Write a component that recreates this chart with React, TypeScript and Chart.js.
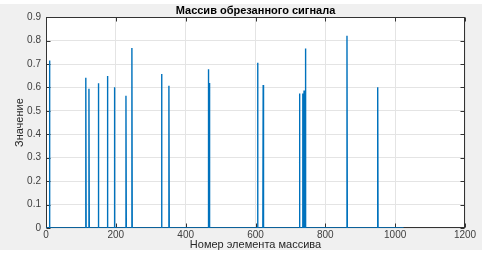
import React, { useEffect, useRef } from 'react';
import { Chart, registerables } from 'chart.js';

Chart.register(...registerables);

const SIGNAL_LENGTH = 1024;
const spikeIndex = [10, 114, 123, 150, 176, 196, 229, 246, 331, 352, 465, 468, 606, 622, 726, 735, 739, 743, 862, 950];
const spikeValue = [0.715, 0.641, 0.594, 0.618, 0.649, 0.601, 0.565, 0.769, 0.657, 0.607, 0.678, 0.619, 0.706, 0.611, 0.574, 0.574, 0.587, 0.766, 0.821, 0.601];
const xTicks = [0, 200, 400, 600, 800, 1000, 1200];
const yTicks = [0, 0.1, 0.2, 0.3, 0.4, 0.5, 0.6, 0.7, 0.8, 0.9];
const titleText = 'Массив обрезанного сигнала';
const xLabel = 'Номер элемента массива';
const yLabel = 'Значение';

const FONT = '"Liberation Sans", Arial, Helvetica, sans-serif';

function buildPoints() {
  const pts: { x: number; y: number }[] = [{ x: 1, y: 0 }];
  spikeIndex.forEach((ix, k) => {
    pts.push({ x: ix - 1, y: 0 });
    pts.push({ x: ix, y: spikeValue[k] });
    pts.push({ x: ix + 1, y: 0 });
  });
  pts.push({ x: SIGNAL_LENGTH, y: 0 });
  return pts;
}

const framePlugin = {
  id: 'frame',
  beforeDraw(chart: any) {
    const { ctx, chartArea, width, height } = chart;
    ctx.save();
    ctx.fillStyle = '#ffffff';
    ctx.fillRect(0, 0, width, height);
    ctx.fillStyle = '#f0f0f0';
    ctx.fillRect(0, 4, width, height - 7);
    ctx.fillStyle = '#ffffff';
    ctx.fillRect(chartArea.left, chartArea.top, chartArea.right - chartArea.left, chartArea.bottom - chartArea.top);
    ctx.restore();
  },
  beforeDatasetsDraw(chart: any) {
    const { ctx, chartArea, scales } = chart;
    const l = Math.round(chartArea.left) + 0.5;
    const r = Math.round(chartArea.right) - 0.5;
    const t = Math.round(chartArea.top) + 0.5;
    const b = Math.round(chartArea.bottom) - 0.5;
    ctx.save();
    ctx.strokeStyle = '#333333';
    ctx.lineWidth = 1;
    ctx.strokeRect(l, t, r - l, b - t);
    ctx.beginPath();
    const tl = 4;
    xTicks.forEach((v) => {
      const px = Math.round(scales.x.getPixelForValue(v)) + 0.5;
      ctx.moveTo(px, t);
      ctx.lineTo(px, t + tl);
      ctx.moveTo(px, b);
      ctx.lineTo(px, b - tl);
    });
    yTicks.forEach((v) => {
      const py = Math.round(scales.y.getPixelForValue(v)) + 0.5;
      ctx.moveTo(l, py);
      ctx.lineTo(l + tl, py);
      ctx.moveTo(r, py);
      ctx.lineTo(r - tl, py);
    });
    ctx.stroke();
    ctx.restore();
  },
};

export default function App() {
  const ref = useRef<HTMLCanvasElement | null>(null);

  useEffect(() => {
    if (!ref.current) return;
    const tickFont = { family: FONT, size: 10 };
    const chart = new Chart(ref.current, {
      type: 'line',
      data: {
        datasets: [
          {
            data: buildPoints(),
            borderColor: '#0072BD',
            borderWidth: 1.4,
            pointRadius: 0,
            tension: 0,
            fill: false,
          },
        ],
      },
      options: {
        animation: false,
        responsive: false,
        maintainAspectRatio: false,
        parsing: false as any,
        layout: { padding: { left: 0, right: 17, top: 0, bottom: 0 } },
        plugins: {
          legend: { display: false },
          tooltip: { enabled: false },
          title: {
            display: true,
            text: titleText,
            fullSize: false,
            color: '#000000',
            font: { family: FONT, size: 11, weight: 'bold' },
            padding: { top: 4, bottom: 0 },
          },
        },
        scales: {
          x: {
            type: 'linear',
            min: 0,
            max: 1200,
            afterBuildTicks: (s: any) => {
              s.ticks = xTicks.map((v) => ({ value: v }));
            },
            afterFit: (s: any) => {
              s.height = 25;
            },
            grid: { color: '#e4e4e4', drawTicks: false },
            border: { display: false },
            ticks: {
              font: tickFont,
              color: '#404040',
              padding: 1,
              maxRotation: 0,
              autoSkip: false,
              callback: (v: any) => String(v),
            },
            title: {
              display: true,
              text: xLabel,
              color: '#262626',
              font: { family: FONT, size: 11 },
              padding: { top: 0, bottom: 1 },
            },
          },
          y: {
            type: 'linear',
            min: 0,
            max: 0.9,
            afterBuildTicks: (s: any) => {
              s.ticks = yTicks.map((v) => ({ value: v }));
            },
            afterFit: (s: any) => {
              s.width = 46;
            },
            grid: { color: '#e4e4e4', drawTicks: false },
            border: { display: false },
            ticks: {
              font: tickFont,
              color: '#404040',
              padding: 5,
              autoSkip: false,
              callback: (v: any) => String(Number(Number(v).toFixed(1))),
            },
            title: {
              display: true,
              text: yLabel,
              color: '#262626',
              font: { family: FONT, size: 11 },
              padding: { top: 13, bottom: 0 },
            },
          },
        },
      },
      plugins: [framePlugin],
    });
    return () => chart.destroy();
  }, []);

  return (
    <div style={{ position: 'absolute', left: 0, top: 0, width: 482, height: 253 }}>
      <canvas ref={ref} width={482} height={253} style={{ display: 'block', width: 482, height: 253 }} />
    </div>
  );
}
